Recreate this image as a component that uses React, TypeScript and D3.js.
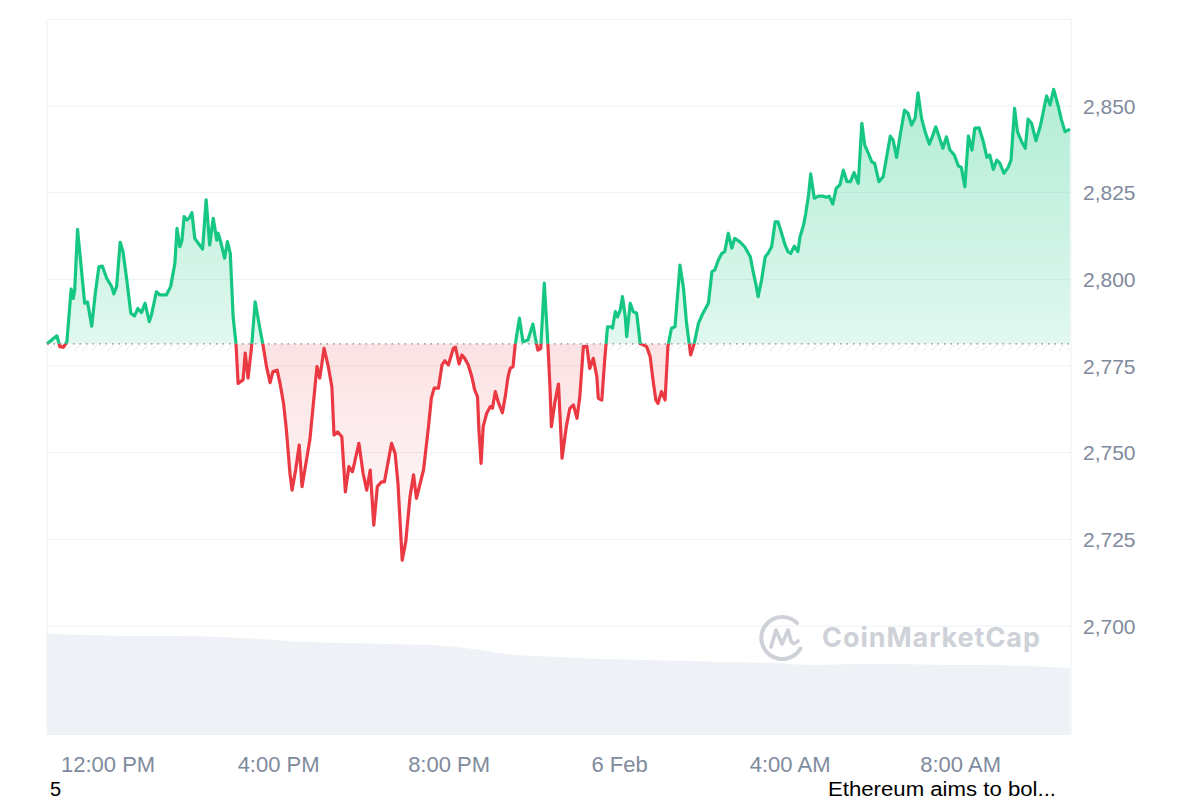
import React from "react";
import * as d3 from "d3";

// ---- Data ----
const START = new Date(2025, 1, 5, 10, 34); // 5 Feb, 10:34
const OPEN_PRICE = 2781.4;

const minutes = [
  0, 14, 18, 23, 28, 34, 37, 39, 43, 49,
  53, 57, 63, 68, 73, 78, 84, 91, 94, 98,
  103, 107, 112, 118, 123, 128, 133, 138, 144, 147,
  154, 159, 168, 174, 180, 183, 187, 190, 193, 197,
  200, 204, 208, 213, 219, 224, 229, 234, 239, 241,
  245, 250, 254, 258, 262, 266, 269, 276, 279, 283,
  288, 293, 300, 304, 309, 314, 318, 324, 328, 333,
  337, 342, 345, 350, 355, 359, 370, 380, 384, 390,
  396, 401, 404, 409, 415, 420, 425, 430, 439, 445,
  450, 455, 460, 465, 471, 475, 485, 490, 494, 500,
  505, 511, 516, 520, 530, 537, 541, 545, 551, 556,
  560, 565, 572, 575, 580, 584, 588, 593, 598, 602,
  606, 608, 611, 614, 619, 624, 627, 631, 635, 641,
  645, 649, 652, 656, 659, 665, 670, 677, 684, 687,
  691, 695, 700, 705, 708, 710, 715, 720, 725, 731,
  736, 741, 746, 750, 755, 760, 764, 769, 774, 776,
  781, 785, 789, 794, 796, 800, 803, 807, 810, 814,
  816, 821, 825, 830, 835, 839, 844, 849, 853, 857,
  860, 865, 870, 874, 879, 884, 891, 896, 900, 906,
  911, 917, 922, 926, 931, 936, 940, 945, 950, 954,
  959, 964, 968, 975, 982, 990, 994, 998, 1001, 1006,
  1011, 1015, 1020, 1025, 1029, 1034, 1039, 1043, 1047, 1052,
  1057, 1060, 1065, 1068, 1072, 1075, 1080, 1086, 1092, 1097,
  1101, 1106, 1111, 1116, 1121, 1126, 1131, 1136, 1142, 1147,
  1151, 1156, 1161, 1165, 1171, 1177, 1187, 1191, 1196, 1201,
  1207, 1212, 1217, 1222, 1226, 1231, 1236, 1242, 1247, 1251,
  1256, 1261, 1266, 1271, 1277, 1283, 1287, 1292, 1297, 1302,
  1306, 1312, 1318, 1323, 1327, 1332, 1337, 1341, 1347, 1353,
  1357, 1362, 1366, 1372, 1377, 1381, 1386, 1392, 1398, 1402,
  1407, 1412, 1417, 1423, 1428, 1433, 1438, 1440,
];

const prices = [
  2781.4, 2783.7, 2780.6, 2780.4, 2782.0, 2797.2, 2794.5, 2796.9, 2814.4, 2801.7,
  2793.1, 2793.5, 2786.5, 2796.0, 2803.6, 2803.8, 2800.3, 2797.9, 2795.8, 2797.9,
  2810.7, 2808.0, 2800.3, 2790.2, 2789.4, 2791.6, 2790.4, 2793.1, 2787.8, 2789.7,
  2796.4, 2795.5, 2795.5, 2797.9, 2804.6, 2814.7, 2809.4, 2811.3, 2818.1, 2817.1,
  2817.6, 2819.2, 2811.8, 2810.4, 2808.7, 2822.9, 2809.9, 2817.6, 2811.3, 2813.3,
  2810.4, 2806.1, 2810.9, 2807.5, 2789.2, 2781.5, 2770.0, 2771.0, 2778.7, 2771.5,
  2780.6, 2793.5, 2785.4, 2781.1, 2774.8, 2770.2, 2773.4, 2773.8, 2770.0, 2764.2,
  2756.5, 2744.0, 2739.2, 2745.0, 2752.2, 2740.2, 2753.7, 2774.8, 2771.5, 2780.1,
  2774.8, 2769.0, 2755.1, 2756.0, 2754.6, 2738.7, 2746.0, 2744.5, 2752.7, 2744.0,
  2739.2, 2745.0, 2729.1, 2740.2, 2741.6, 2741.6, 2752.7, 2749.8, 2741.2, 2719.0,
  2724.3, 2737.3, 2743.6, 2736.8, 2745.0, 2757.5, 2765.7, 2768.6, 2768.6, 2775.3,
  2776.5, 2775.3, 2780.1, 2780.4, 2775.6, 2778.2, 2777.2, 2775.3, 2771.9, 2768.1,
  2766.1, 2756.5, 2746.9, 2757.5, 2761.4, 2763.3, 2762.8, 2767.6, 2764.7, 2761.5,
  2766.1, 2771.9, 2774.3, 2774.8, 2781.1, 2788.8, 2782.0, 2782.5, 2787.1, 2783.5,
  2779.6, 2780.1, 2798.9, 2781.5, 2769.0, 2757.5, 2764.7, 2769.8, 2748.4, 2757.5,
  2762.8, 2763.8, 2759.9, 2766.1, 2780.6, 2780.6, 2774.3, 2777.2, 2771.9, 2765.7,
  2765.2, 2776.7, 2786.3, 2786.3, 2785.9, 2790.7, 2789.2, 2791.2, 2795.0, 2789.2,
  2783.5, 2793.1, 2790.7, 2790.2, 2781.5, 2781.1, 2780.6, 2777.7, 2771.0, 2765.2,
  2764.2, 2767.6, 2765.2, 2780.6, 2785.9, 2786.3, 2804.1, 2797.4, 2787.8, 2778.2,
  2781.5, 2787.3, 2789.7, 2791.2, 2793.1, 2802.2, 2802.7, 2805.6, 2807.5, 2808.0,
  2813.3, 2809.0, 2811.8, 2810.9, 2809.4, 2806.5, 2802.2, 2798.4, 2795.0, 2800.0,
  2806.5, 2807.5, 2809.4, 2816.6, 2816.6, 2813.3, 2809.9, 2808.0, 2807.5, 2809.6,
  2808.0, 2812.3, 2815.7, 2819.0, 2824.3, 2830.4, 2823.4, 2824.0, 2824.0, 2823.7,
  2824.0, 2821.7, 2826.3, 2827.2, 2831.5, 2828.2, 2828.2, 2830.8, 2827.7, 2845.0,
  2838.8, 2836.4, 2833.9, 2833.5, 2828.2, 2829.6, 2841.3, 2840.2, 2835.2, 2841.6,
  2848.8, 2847.9, 2844.5, 2846.5, 2853.8, 2846.5, 2842.6, 2839.0, 2841.6, 2844.0,
  2841.0, 2837.8, 2841.1, 2837.3, 2835.9, 2832.7, 2832.3, 2826.7, 2841.3, 2837.3,
  2843.6, 2843.7, 2839.7, 2835.2, 2835.9, 2831.7, 2834.4, 2833.6, 2830.6, 2832.3,
  2834.4, 2849.3, 2842.6, 2839.7, 2837.8, 2846.2, 2845.0, 2840.0, 2844.0, 2847.9,
  2852.9, 2850.3, 2854.8, 2850.3, 2846.0, 2842.6, 2843.1, 2843.3,
];

// hourly volume (billions, approximate)
const volumeMinutes = [
  0, 60, 120, 180, 240, 300, 360, 420, 480, 540, 600, 660, 720,
  780, 840, 900, 960, 1020, 1080, 1140, 1200, 1260, 1320, 1380, 1440,
];
const volumes = [
  36.7, 36.4, 36.0, 36.0, 35.6, 34.9, 33.8, 33.5, 33.1, 32.7, 31.3, 29.1, 28.4,
  27.6, 27.3, 26.9, 26.5, 26.2, 25.5, 25.8, 25.8, 25.5, 25.5, 25.1, 24.4,
];

const yTicks = [2700, 2725, 2750, 2775, 2800, 2825, 2850];
const yTopGrid = 2875;
const xTickHours = [12, 16, 20, 24, 28, 32]; // hours from 5 Feb 00:00
const xTickLabels = ["12:00 PM", "4:00 PM", "8:00 PM", "6 Feb", "4:00 AM", "8:00 AM"];

// ---- Layout ----
const W = 1200;
const H = 800;
const LEFT = 47;
const RIGHT = 1070;
const BOTTOM = 735;

const GREEN = "#16c784";
const RED = "#ea3943";
const FONT = "'Liberation Sans', Arial, Helvetica, sans-serif";

export default function App() {
  const minuteMs = 60000;
  const data = minutes.map((m, i) => ({
    date: new Date(START.getTime() + m * minuteMs),
    price: prices[i],
  }));
  const vol = volumeMinutes.map((m, i) => ({
    date: new Date(START.getTime() + m * minuteMs),
    v: volumes[i],
  }));

  const x = d3
    .scaleTime()
    .domain([START, new Date(START.getTime() + 1440 * minuteMs)])
    .range([LEFT, RIGHT]);
  const y = d3.scaleLinear().domain([2700, 2850]).range([626, 106]);
  const yv = d3.scaleLinear().domain([0, 40]).range([BOTTOM, BOTTOM - 110]);

  const baseY = y(OPEN_PRICE);

  const line = d3
    .line<{ date: Date; price: number }>()
    .x((d) => x(d.date))
    .y((d) => y(d.price))
    .curve(d3.curveLinear);
  const area = d3
    .area<{ date: Date; price: number }>()
    .x((d) => x(d.date))
    .y0(baseY)
    .y1((d) => y(d.price))
    .curve(d3.curveLinear);
  const volArea = d3
    .area<{ date: Date; v: number }>()
    .x((d) => x(d.date))
    .y0(BOTTOM)
    .y1((d) => yv(d.v))
    .curve(d3.curveMonotoneX);

  const dayStart = new Date(2025, 1, 5, 0, 0);
  const xTicks = xTickHours.map((h, i) => ({
    date: new Date(dayStart.getTime() + h * 3600000),
    label: xTickLabels[i],
  }));

  const linePath = line(data) || "";
  const areaPath = area(data) || "";
  const minY = y(d3.min(prices) as number);
  const maxY = y(d3.max(prices) as number);

  return (
    <svg
      width={W}
      height={H}
      viewBox={`0 0 ${W} ${H}`}
      style={{ position: "absolute", left: 0, top: 0, background: "#fff" }}
    >
      <defs>
        <clipPath id="above">
          <rect x={0} y={0} width={W} height={baseY} />
        </clipPath>
        <clipPath id="below">
          <rect x={0} y={baseY} width={W} height={H - baseY} />
        </clipPath>
        <linearGradient id="gGreen" x1="0" x2="0" y1={maxY} y2={baseY} gradientUnits="userSpaceOnUse">
          <stop offset="0" stopColor={GREEN} stopOpacity={0.33} />
          <stop offset="1" stopColor={GREEN} stopOpacity={0.13} />
        </linearGradient>
        <linearGradient id="gRed" x1="0" x2="0" y1={baseY} y2={minY} gradientUnits="userSpaceOnUse">
          <stop offset="0" stopColor={RED} stopOpacity={0.15} />
          <stop offset="1" stopColor={RED} stopOpacity={0.02} />
        </linearGradient>
        <pattern id="hatch" width="6" height="6" patternUnits="userSpaceOnUse" patternTransform="rotate(45)">
          <line x1="0" y1="0" x2="0" y2="6" stroke="#e3e6eb" strokeWidth="2" />
        </pattern>
      </defs>

      {/* grid */}
      <g>
        {[...yTicks, yTopGrid].map((t) => (
          <line key={t} x1={LEFT} x2={RIGHT + 1} y1={y(t)} y2={y(t)} stroke="#eef0f3" strokeWidth={1} />
        ))}
        <line x1={LEFT} x2={LEFT} y1={y(yTopGrid)} y2={BOTTOM} stroke="#eef0f3" strokeWidth={1} />
        <line x1={RIGHT + 1} x2={RIGHT + 1} y1={y(yTopGrid)} y2={BOTTOM} stroke="#eef0f3" strokeWidth={1} />
      </g>

      {/* volume */}
      <path d={volArea(vol) || ""} fill="#eef1f5" />

      {/* watermark */}
      <g opacity={0.9}>
        <path
          d="M 800.5 648.5 A 21 21 0 1 1 797 623"
          fill="none"
          stroke="#c9cdd4"
          strokeWidth={4}
          strokeLinecap="round"
        />
        <path
          d="M 771 647 L 776 630 L 782 644 L 788 630 L 791 641 Q 794 646 798 641"
          fill="none"
          stroke="#c9cdd4"
          strokeWidth={3.6}
          strokeLinejoin="round"
          strokeLinecap="round"
        />
        <text
          x={822}
          y={647}
          fontFamily="Inter, 'Open Sans', sans-serif"
          fontWeight={700}
          fontSize={27}
          fill="#c9cdd4"
          textLength={218}
        >
          CoinMarketCap
        </text>
      </g>

      {/* fills */}
      <path d={areaPath} fill="url(#gGreen)" clipPath="url(#above)" />
      <path d={areaPath} fill="url(#gRed)" clipPath="url(#below)" />

      {/* hatch band under open price */}
      <rect x={LEFT} y={baseY + 1} width={RIGHT - LEFT} height={6} fill="url(#hatch)" opacity={0.7} />

      {/* baseline */}
      <line
        x1={LEFT}
        x2={RIGHT}
        y1={baseY}
        y2={baseY}
        stroke="#7f8697"
        strokeWidth={1.3}
        strokeDasharray="1.5 5"
      />

      {/* lines */}
      <path d={linePath} fill="none" stroke={GREEN} strokeWidth={3.2} strokeLinejoin="round" clipPath="url(#above)" />
      <path d={linePath} fill="none" stroke={RED} strokeWidth={3.2} strokeLinejoin="round" clipPath="url(#below)" />

      {/* y labels */}
      <g fontFamily={FONT} fontSize={21} fill="#808a9d">
        {yTicks.map((t) => (
          <text key={t} x={1083} y={y(t)} dy="0.36em">
            {d3.format(",")(t)}
          </text>
        ))}
      </g>

      {/* x labels */}
      <g fontFamily={FONT} fontSize={22} fill="#808a9d" textAnchor="middle">
        {xTicks.map((t) => (
          <text key={t.label} x={x(t.date)} y={772}>
            {t.label}
          </text>
        ))}
      </g>

      {/* page text fragments */}
      <g fontFamily={FONT} fontSize={20} fill="#000">
        <text x={50} y={795.5}>5</text>
        <text x={828} y={795.5} textLength={228} lengthAdjust="spacingAndGlyphs">Ethereum aims to bol...</text>
      </g>
    </svg>
  );
}
